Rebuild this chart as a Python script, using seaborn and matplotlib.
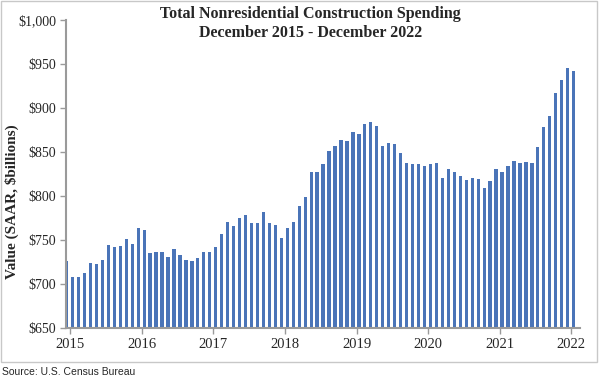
import matplotlib
matplotlib.use("Agg")
import matplotlib.pyplot as plt
import seaborn as sns
import numpy as np
from matplotlib.patches import Rectangle
from matplotlib.ticker import FuncFormatter

# monthly nonresidential construction spending, SAAR, $ billions
spending = [
    726, 708, 708, 713, 724.5, 723, 727, 745, 742, 743, 751, 746,
    764, 761, 735, 737, 737, 731, 740, 733, 727, 726, 730, 737,
    737, 742, 757, 771, 766, 775, 779, 769, 770, 782, 769, 767,
    753, 764, 771, 789, 799, 827, 828, 837, 851, 857, 864, 863,
    873, 871, 882, 884, 880, 857, 860, 859, 849, 838, 836, 837,
    834, 837, 838, 821, 831, 827, 823, 818, 821, 820, 809, 817,
    831, 828, 834, 840, 838, 839, 838, 856, 879, 891, 917, 932,
    946, 942,
]
year_labels = ["2015", "2016", "2017", "2018", "2019", "2020", "2021", "2022"]
y_ticks = [650, 700, 750, 800, 850, 900, 950, 1000]

sns.set_style("white")
plt.rcParams["font.family"] = ["Liberation Serif", "DejaVu Serif"]

fig = plt.figure(figsize=(6.0, 3.79), dpi=100)
ax = fig.add_axes([0.11, 0.134, 0.857, 0.813])

months = np.arange(len(spending))
sns.barplot(x=months, y=spending, color="#4A74B8", saturation=1, width=0.55,
            linewidth=0, ax=ax)

ax.set_ylim(650, 1000)
ax.set_xlim(-0.1, 86.1)
ax.set_yticks(y_ticks)
ax.yaxis.set_major_formatter(FuncFormatter(lambda v, p: f"${v:,.0f}"))
ax.set_xticks(np.arange(len(year_labels)) * 12 + 0.6)
ax.set_xticklabels(year_labels)
ax.tick_params(axis="both", labelsize=10.5, direction="out", length=4,
               width=1, color="#9a9a9a", left=True, bottom=True)
ax.tick_params(axis="x", pad=3)
ax.tick_params(axis="y", labelsize=10, pad=3)
ax.set_ylabel("Value (SAAR, $billions)", fontsize=11, fontweight="bold")
ax.yaxis.set_label_coords(-0.092, 0.41)
ax.set_xlabel("")

for side in ["top", "right"]:
    ax.spines[side].set_visible(False)
for side in ["left", "bottom"]:
    ax.spines[side].set_color("#9a9a9a")
    ax.spines[side].set_linewidth(1.5)

fig.text(0.518, 0.985, "Total Nonresidential Construction Spending\nDecember 2015 - December 2022",
         ha="center", va="top", fontsize=11.5, fontweight="bold", linespacing=1.25)

fig.patches.append(Rectangle((0.002, 0.045), 0.993, 0.952, transform=fig.transFigure,
                             fill=False, edgecolor="#c8c8c8", linewidth=1))
fig.text(0.004, 0.018, "Source: U.S. Census Bureau", fontsize=7.5,
         family=["Liberation Sans", "DejaVu Sans"], va="center")

fig.savefig("out.png", dpi=100)
plt.close(fig)
